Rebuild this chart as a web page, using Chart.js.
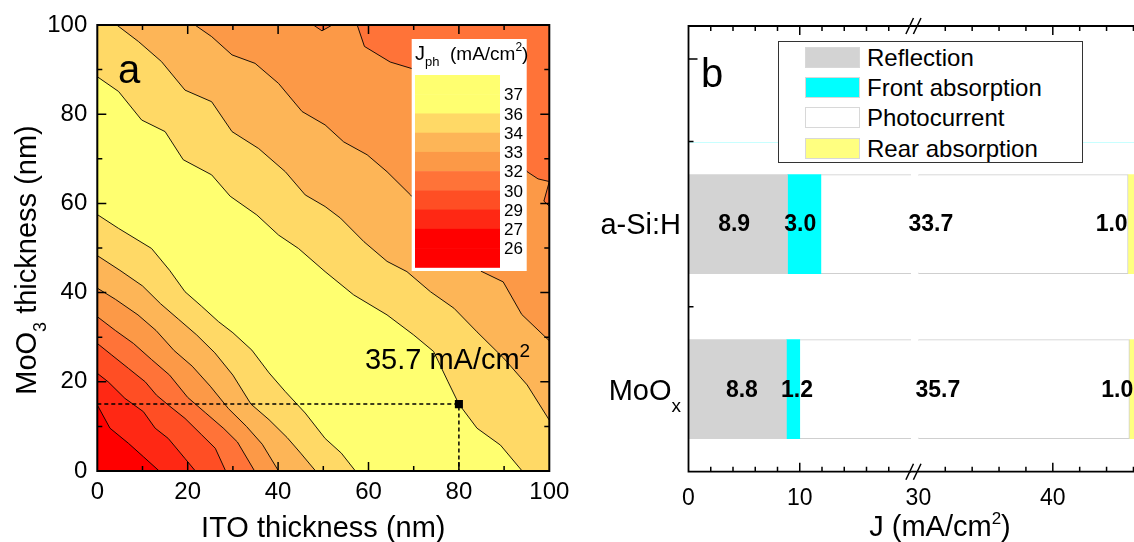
<!DOCTYPE html>
<html>
<head>
<meta charset="utf-8">
<title>Jph map and current-loss breakdown</title>
<script src="https://cdn.jsdelivr.net/npm/chart.js@4.4.1/dist/chart.umd.min.js"></script>
<style>
  html, body { margin: 0; padding: 0; overflow: hidden; background: #fff; }
  #page { position: relative; width: 1134px; height: 542px; overflow: hidden;
          font-family: "Liberation Sans", Arial, sans-serif; color: #000; }
  canvas { position: absolute; top: 0; }
  #chartA { left: 0; }
  #chartB1 { left: 570px; }
  #chartB2 { left: 900px; }
  #legendB { position: absolute; left: 778px; top: 41px; width: 305px; height: 122px;
             box-sizing: border-box; border: 1px solid #333; background: #fff; }
  .row { position: absolute; left: 26px; height: 21px; }
  .sw { position: absolute; left: 0; top: 0; width: 55px; height: 21px; box-sizing: border-box; border: 1px solid #d8d8d8; }
  .lbl { position: absolute; left: 62px; top: -3px; font-size: 24px; line-height: 27px; white-space: nowrap; }
  #jTitle { position: absolute; left: 740px; width: 400px; top: 512px; text-align: center;
            font-size: 29px; line-height: 29px; white-space: nowrap; }
  #jTitle span { font-size: 17px; line-height: 0; position: relative; top: -12px; }
</style>
</head>
<body>
<div id="page">
  <canvas id="chartA" width="570" height="542"></canvas>
  <canvas id="chartB1" width="341" height="542"></canvas>
  <canvas id="chartB2" width="300" height="542"></canvas>
  <div id="legendB"></div>
  <div id="jTitle">J (mA/cm<span>2</span>)</div>
</div>
<script>
// Panel a: Jph contour map over ITO / MoO3 thickness. Panel b: where the light goes (broken J axis).
// Iso-lines were traced off the published figure, so they are estimates.

const FONT = '"Liberation Sans", Arial, sans-serif';
Chart.defaults.font.family = FONT;
Chart.defaults.color = '#000';

// ---------- panel a data ----------
const jLevels = [26, 27, 29, 30, 32, 33, 34, 36, 37];
// one colour per band: below 26, 26-27, ..., above 37
const bandColors = ['#ff0000', '#ff0000', '#ff2814', '#ff4e24', '#ff7338',
                    '#fc9947', '#fdb557', '#ffd966', '#ffff70', '#ffff70'];

// iso-Jph lines as [ITO nm, MoO3 nm]; the "low" branch runs left edge -> bottom edge
const low27 = [[0,14.8],[2.8,9.6],[6.9,6.2],[10.2,3.2],[13.7,0]];
const low29 = [[0,21.9],[2.4,20],[6.1,16.3],[10.2,13.3],[12.8,9.6],[15.7,7.3],[19.4,2.8],[21.7,0]];
const low30 = [[0,28.6],[3.2,26],[6.9,23],[10.6,20],[13.1,17],[15.7,14.8],[19.4,11.8],[23.1,8.1],[26.1,5.1],[28.4,0]];
const low32 = [[0,34.6],[4,31.5],[8,28.6],[12,25],[16,21.5],[20,16.5],[24,13],[28,9.5],[31,6.5],[34.8,0]];
const low33 = [[0,41],[4,38.5],[9,35],[13,31.5],[17,27],[21,23.5],[25,19],[29,14],[33,10],[36.5,6],[40.1,0]];
const low34 = [[0,48.3],[5,45],[10,41.5],[14,37.5],[18,34],[22,30.5],[26,26.5],[30,21.5],[34,15],[38,11.5],[42,7.5],[45,4],[48.3,0]];
const low36 = [[0,57.5],[4.7,54.4],[12,49.9],[16,45],[19.4,40.2],[23,37],[26.8,33.5],[30,31],[34.2,27.1],[38,22],[41.6,17.8],[46,13],[50.4,7.3],[54,4],[57.1,0]];
// upper-right branches, where Jph falls off again
const up36 = [[0,88.4],[4.7,85.1],[9.8,78.7],[15,76.1],[19,69.8],[25.3,66.4],[29.4,61.6],[35.3,57.4],[40.1,52.9],[44.5,49.9],[50.4,44.7],[56.7,39.5],[64.1,35],[70,30.5],[74.4,26.8],[77.6,20],[80,15],[84,9.6],[89.2,5.8],[94,0]];
const up34 = [[4.3,100],[9.1,96.3],[14.2,91.8],[19.4,85.4],[25.3,82.8],[29.8,76.1],[35.7,72.3],[41.6,67.1],[46,61.9],[50.4,59.3],[53.8,56.7],[59,51.4],[64.1,47],[68.5,44.7],[73.7,40.2],[78.9,36.5],[84,31.2],[89.9,25.3],[95.1,19.3],[100,11.4]];
const up33 = [[21.6,100],[25.3,97.4],[29.8,93.3],[34.9,91.4],[40.1,86.9],[45.3,80.6],[50.4,77.6],[54.5,73.8],[59.7,70.9],[64.1,67.1],[69.3,61.9],[75,56],[80,50.5],[84.9,44.8],[89.8,42.4],[93.9,35.1],[100,29.2]];
const up32 = [[57.5,100],[59.1,95.2],[64.8,91.7],[69.7,90.2],[74,88.5],[80,84],[88,76],[95.1,67.1],[97.5,65.5],[100,64.9],[98.8,60.5],[100,59.4]];
const notch32 = [[47.8,100],[49.7,98.7],[52,100]];

const optITO = 80, optMoO3 = 15, optJ = 35.7;
const annAt = [59.2, 22.9];   // where the optimum label sits (data units)

const thickTicks = [10, 20, 30, 40, 50, 60, 70, 80, 90];
const thickMajor = [20, 40, 60, 80];

// ---------- panel b data ----------
const layers = ['Reflection', 'Front absorption', 'Photocurrent', 'Rear absorption'];
const layerColors = ['#d3d3d3', '#00ffff', '#ffffff', '#ffff80'];
const devices = [['a-Si:H', ''], ['MoO', 'x']];
const devicePos = [2, 1];
const reflection = [8.9, 8.8];
const frontAbs = [3.0, 1.2];
const photocurrent = [33.7, 35.7];
const rearAbs = [1.0, 1.0];
const seriesValues = [reflection, frontAbs, photocurrent, rearAbs];
// x (mA/cm2) where each value label is printed, per device
const labelAt = [[4.1, 10.05, 30.93, 44.38], [4.8, 9.75, 31.45, 44.8]];
const breakFrom = 20, breakTo = 30;
const jTicksLeft = [2, 4, 6, 8, 10, 12, 14, 16, 18];
const jTicksRight = [32, 34, 36, 38, 40, 42, 44, 46, 48];
const jMajor = [10, 40];
const rowTicks = [1.5, 2.5, 3];
const rowMajor = [3];
const gridAt = 2.5;

// ---------- helpers ----------
const toXY = pts => pts.map(([x, y]) => ({ x, y }));

function regionAbove(low, up) {
  const pts = low.slice();
  if (!up) return pts.concat([[100, 0], [100, 100], [0, 100]]);
  if (up[up.length - 1][1] > 0) pts.push([100, 0]);   // branch leaves through the right edge
  pts.push(...up.slice().reverse());
  if (up[0][0] > 0) pts.push([0, 100]);                // branch enters through the top edge
  return pts;
}

function drawRich(ctx, parts, x, y, align, rotate) {
  ctx.save();
  ctx.translate(x, y);
  if (rotate) ctx.rotate(rotate);
  let w = 0;
  parts.forEach(p => { ctx.font = (p.bold ? 'bold ' : '') + p.s + 'px ' + FONT; p.w = ctx.measureText(p.t).width; w += p.w; });
  let cx = align === 'center' ? -w / 2 : align === 'right' ? -w : 0;
  ctx.textAlign = 'left';
  ctx.textBaseline = 'alphabetic';
  ctx.fillStyle = '#000';
  parts.forEach(p => {
    ctx.font = (p.bold ? 'bold ' : '') + p.s + 'px ' + FONT;
    ctx.fillText(p.t, cx, p.dy || 0);
    cx += p.w;
  });
  ctx.restore();
}

// frame + inward ticks, Origin style
const frameTicks = {
  id: 'frameTicks',
  afterDatasetsDraw(chart, args, o) {
    const { ctx, chartArea: a, scales: { x, y } } = chart;
    const sides = o.sides;
    ctx.save();
    ctx.strokeStyle = '#000';
    ctx.lineWidth = 1.5;
    ctx.beginPath();
    (o.xTicks || []).forEach(v => {
      const px = x.getPixelForValue(v), len = o.xMajor.includes(v) ? 9 : 5;
      if (sides.includes('b')) { ctx.moveTo(px, a.bottom); ctx.lineTo(px, a.bottom - len); }
      if (sides.includes('t')) { ctx.moveTo(px, a.top); ctx.lineTo(px, a.top + len); }
    });
    (o.yTicks || []).forEach(v => {
      const py = y.getPixelForValue(v), len = o.yMajor.includes(v) ? 9 : 5;
      if (sides.includes('l')) { ctx.moveTo(a.left, py); ctx.lineTo(a.left + len, py); }
      if (sides.includes('r')) { ctx.moveTo(a.right, py); ctx.lineTo(a.right - len, py); }
    });
    ctx.stroke();
    ctx.lineWidth = o.width;
    ctx.lineCap = 'square';
    ctx.beginPath();
    const x0 = o.from != null ? o.from : a.left;
    if (sides.includes('t')) { ctx.moveTo(x0, a.top); ctx.lineTo(a.right, a.top); }
    if (sides.includes('b')) { ctx.moveTo(x0, a.bottom); ctx.lineTo(a.right, a.bottom); }
    if (sides.includes('l')) { ctx.moveTo(a.left, a.top); ctx.lineTo(a.left, a.bottom); }
    if (sides.includes('r')) { ctx.moveTo(a.right, a.top); ctx.lineTo(a.right, a.bottom); }
    ctx.stroke();
    if (o.breakMark) {
      ctx.lineWidth = 1.5;
      ctx.lineCap = 'butt';
      ctx.beginPath();
      [a.top, a.bottom].forEach(ay => {
        [x0 - 1.3, x0 + 6.2].forEach(cx => { ctx.moveTo(cx - 3.8, ay + 8); ctx.lineTo(cx + 3.8, ay - 8); });
      });
      ctx.stroke();
    }
    ctx.restore();
  }
};

// colour scale box, optimum label, panel letter, axis titles
const panelADecor = {
  id: 'panelADecor',
  afterDatasetsDraw(chart) {
    const { ctx, chartArea: a, scales: { x, y } } = chart;
    const bx = a.left + 314.4, by = a.top + 14, bh = 19.23;
    ctx.save();
    ctx.fillStyle = '#fff';
    ctx.fillRect(bx, by, 115, 232);
    const n = bandColors.length;
    for (let i = 0; i < n; i++) {
      ctx.fillStyle = bandColors[n - 1 - i];
      ctx.fillRect(bx + 3.3, by + 36 + i * bh, 85, bh + 0.5);
    }
    ctx.fillStyle = '#000';
    ctx.font = '17px ' + FONT;
    ctx.textAlign = 'left';
    ctx.textBaseline = 'middle';
    jLevels.slice().reverse().forEach((lv, i) => {
      ctx.fillText(String(lv), bx + 92.3, by + 36 + (i + 1) * bh + 1.5);
    });
    ctx.restore();
    drawRich(ctx, [{ t: 'J', s: 20 }, { t: 'ph', s: 13, dy: 6 }, { t: '  (mA/cm', s: 19 },
                   { t: '2', s: 12, dy: -9 }, { t: ')', s: 19 }], bx + 3.3, by + 21, 'left');

    drawRich(ctx, [{ t: optJ.toFixed(1) + ' mA/cm', s: 29 }, { t: '2', s: 19, dy: -12 }],
             x.getPixelForValue(annAt[0]), y.getPixelForValue(annAt[1]), 'left');
    drawRich(ctx, [{ t: 'a', s: 40 }], a.left + 20.7, a.top + 58, 'left');
    drawRich(ctx, [{ t: 'MoO', s: 29 }, { t: '3', s: 18, dy: 10 }, { t: ' thickness (nm)', s: 29 }],
             36, (a.top + a.bottom) / 2 + 12, 'center', -Math.PI / 2);
    drawRich(ctx, [{ t: 'ITO thickness (nm)', s: 29 }], (a.left + a.right) / 2, 537, 'center');
  }
};

// ---------- panel a chart ----------
const contourSets = [];
contourSets.push({ data: toXY([[0, 0], [100, 0], [100, 100], [0, 100]]), fill: 'shape',
                   backgroundColor: bandColors[0], borderWidth: 0, order: 60 });
[[27, low27], [29, low29], [30, low30], [32, low32, notch32.concat(up32)],
 [33, low33, up33], [34, low34, up34], [36, low36, up36]].forEach(([lv, low, up], i) => {
  contourSets.push({ data: toXY(regionAbove(low, up)), fill: 'shape',
                     backgroundColor: bandColors[jLevels.indexOf(lv) + 1], borderWidth: 0, order: 59 - i });
});
[low27, low29, low30, low32, low33, low34, low36, up36, up34, up33, up32, notch32].forEach(l => {
  contourSets.push({ data: toXY(l), borderColor: '#000', borderWidth: 0.9, fill: false, order: 10 });
});
contourSets.push({ data: toXY([[0, optMoO3], [optITO, optMoO3], [optITO, 0]]), borderColor: '#000',
                   borderWidth: 1.5, borderDash: [4, 3], fill: false, order: 2 });
contourSets.push({ data: [{ x: optITO, y: optMoO3 }], showLine: false, pointRadius: 5.7, pointStyle: 'rect',
                   backgroundColor: '#000', borderColor: '#000', borderWidth: 0, order: 1 });
contourSets.forEach(d => { if (d.showLine === undefined) d.showLine = true; });

// tick label drop below the axis comes from the label line height (padding would also widen the axis margins)
new Chart(document.getElementById('chartA'), {
  type: 'scatter',
  data: { datasets: contourSets },
  options: {
    responsive: false, animation: false, events: [],
    layout: { autoPadding: false, padding: { left: 0, top: 25, right: 20.7, bottom: 0 } },
    elements: { point: { radius: 0 }, line: { tension: 0 } },
    scales: {
      x: { type: 'linear', min: 0, max: 100,
           grid: { display: false, drawTicks: false }, border: { display: false },
           ticks: { stepSize: 20, padding: 0, font: { size: 24, lineHeight: 1.75 } },
           afterFit: s => { s.height = 71; } },
      y: { type: 'linear', min: 0, max: 100,
           grid: { display: false, drawTicks: false }, border: { display: false },
           ticks: { stepSize: 20, padding: 10, font: { size: 24 } },
           afterFit: s => { s.width = 97.3; } }
    },
    plugins: {
      legend: { display: false }, tooltip: { enabled: false },
      frameTicks: { sides: 'lrtb', width: 2, xTicks: thickTicks, xMajor: thickMajor, yTicks: thickTicks, yMajor: thickMajor }
    }
  },
  plugins: [panelADecor, frameTicks]
});

// ---------- panel b (two halves of a broken axis) ----------
const rowGrid = {
  id: 'rowGrid',
  beforeDatasetsDraw(chart, args, o) {
    const { ctx, chartArea: a, scales: { y } } = chart;
    const py = Math.round(y.getPixelForValue(gridAt)) + 0.5;
    ctx.save();
    ctx.strokeStyle = '#c8ffff';
    ctx.lineWidth = 1;
    ctx.beginPath();
    ctx.moveTo(o.from != null ? o.from : a.left, py);
    ctx.lineTo(a.right, py);
    ctx.stroke();
    ctx.restore();
  }
};

const valueLabels = {
  id: 'valueLabels',
  afterDatasetsDraw(chart) {
    const { ctx, scales: { x, y } } = chart;
    ctx.save();
    ctx.font = 'bold 23px ' + FONT;
    ctx.textAlign = 'center';
    ctx.textBaseline = 'middle';
    ctx.fillStyle = '#000';
    seriesValues.forEach((vals, s) => vals.forEach((v, d) => {
      const at = labelAt[d][s];
      if (at < x.min || at > x.max) return;
      ctx.fillText(v.toFixed(1), x.getPixelForValue(at), y.getPixelForValue(devicePos[d]) + 1);
    }));
    ctx.restore();
  }
};

const panelBDecor = {
  id: 'panelBDecor',
  afterDatasetsDraw(chart) {
    const { ctx, chartArea: a, scales: { y } } = chart;
    devices.forEach(([main, sub], i) => {
      const parts = [{ t: main, s: 29 }];
      if (sub) parts.push({ t: sub, s: 19, dy: 12 });
      drawRich(ctx, parts, a.left - 7.5, y.getPixelForValue(devicePos[i]) + 10.4, 'right');
    });
    drawRich(ctx, [{ t: 'b', s: 40 }], a.left + 12.5, a.top + 61, 'left');
  }
};

function barSets() {
  return layers.map((name, s) => ({
    label: name,
    data: devices.map((d, i) => ({ x: seriesValues[s][i], y: devicePos[i] })),
    backgroundColor: layerColors[s],
    borderColor: '#cfcfcf',
    borderWidth: s === 2 ? 1 : 0,
    borderSkipped: 'start',
    barThickness: 99,
    clip: 0
  }));
}

function bOptions(xMin, xMax, pad, frame) {
  return {
    indexAxis: 'y', responsive: false, animation: false, events: [],
    layout: { autoPadding: false, padding: pad },
    scales: {
      x: { type: 'linear', min: xMin, max: xMax, stacked: true,
           grid: { display: false, drawTicks: false }, border: { display: false },
           ticks: { stepSize: 10, padding: 0, font: { size: 23, lineHeight: 2.31 },
                    callback: v => (v === breakFrom ? '' : v) },
           afterFit: s => { s.height = 70.3; } },
      y: { type: 'linear', min: 0.5, max: 3.2, stacked: true, offset: false, display: false }
    },
    plugins: { legend: { display: false }, tooltip: { enabled: false },
               frameTicks: frame, rowGrid: { from: frame.from } }
  };
}

new Chart(document.getElementById('chartB1'), {
  type: 'bar',
  data: { datasets: barSets() },
  options: bOptions(0, breakFrom, { left: 118.5, top: 26, right: 0, bottom: 0 },
    { sides: 'ltb', width: 1.8, xTicks: jTicksLeft, xMajor: jMajor, yTicks: rowTicks, yMajor: rowMajor }),
  plugins: [rowGrid, valueLabels, panelBDecor, frameTicks]
});

new Chart(document.getElementById('chartB2'), {
  type: 'bar',
  data: { datasets: barSets() },
  options: bOptions(breakTo, 50, { left: 18.4, top: 26, right: 11, bottom: 0 },
    { sides: 'tb', width: 1.8, from: 11, breakMark: true, xTicks: jTicksRight, xMajor: jMajor, yTicks: [], yMajor: [] }),
  plugins: [rowGrid, valueLabels, frameTicks]
});

// legend of panel b, sits across the axis break
const legendBox = document.getElementById('legendB');
layers.forEach((name, i) => {
  const row = document.createElement('div');
  row.className = 'row';
  row.style.top = (4.7 + i * 30.3) + 'px';
  const sw = document.createElement('div');
  sw.className = 'sw';
  sw.style.background = layerColors[i];
  const lbl = document.createElement('div');
  lbl.className = 'lbl';
  lbl.textContent = name;
  row.appendChild(sw);
  row.appendChild(lbl);
  legendBox.appendChild(row);
});
</script>
</body>
</html>
